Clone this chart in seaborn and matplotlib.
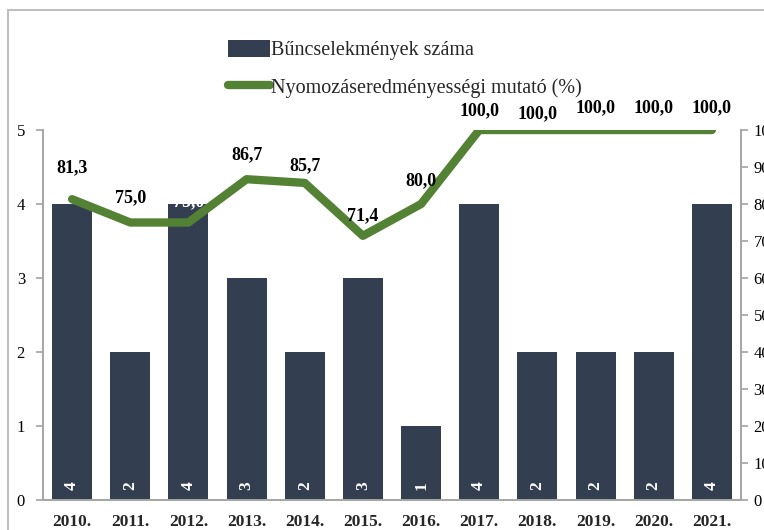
import numpy as np
import pandas as pd
import seaborn as sns
import matplotlib as mpl
import matplotlib.pyplot as plt
from matplotlib.patches import Rectangle
from matplotlib.lines import Line2D
from matplotlib.patches import Patch

years = ['2010.', '2011.', '2012.', '2013.', '2014.', '2015.',
         '2016.', '2017.', '2018.', '2019.', '2020.', '2021.']
crimes = [4, 2, 4, 3, 2, 3, 1, 4, 2, 2, 2, 4]
rate = [81.3, 75.0, 75.0, 86.7, 85.7, 71.4, 80.0, 100.0, 100.0, 100.0, 100.0, 100.0]

bar_label = 'Bűncselekmények száma'
line_label = 'Nyomozáseredményességi mutató (%)'

bar_color = '#333f50'
line_color = '#548235'
spine_color = '#a6a6a6'

sns.set_theme(style='white')
mpl.rc('font', family=['Liberation Serif', 'DejaVu Serif'])

df = pd.DataFrame({'year': years, 'crimes': crimes, 'rate': rate})

fig = plt.figure(figsize=(7.64, 5.30), dpi=100)
ax = fig.add_axes([43 / 764, 30 / 530, 698 / 764, 370 / 530])

sns.barplot(data=df, x='year', y='crimes', color=bar_color, saturation=1,
            width=0.69, ax=ax, zorder=2, linewidth=0)
ax.set_xlim(-0.5, 11.5)
ax.set_ylim(0, 5)
ax.set_yticks(range(6))
ax.set_xlabel('')
ax.set_ylabel('')

# value labels inside the bars
for i, v in enumerate(crimes):
    ax.text(i, 0.19, str(v), rotation=90, color='white', fontsize=12.5,
            fontweight='bold', ha='center', va='center', zorder=3)

ax2 = ax.twinx()
sns.lineplot(data=df, x='year', y='rate', color=line_color, linewidth=6,
             ax=ax2, solid_capstyle='round', sort=False)
ax2.set_ylim(0, 100)
ax2.set_yticks(range(0, 101, 10))
ax2.set_ylabel('')
ax2.set_xlabel('')

# offsets of the line labels (in right-axis units)
offsets = [8.6, 6.8, 5.5, 6.5, 4.6, 5.4, 6.2, 5.2, 4.3, 6.0, 6.0, 6.0]
for i, v in enumerate(rate):
    txt = f'{v:.1f}'.replace('.', ',')
    c = 'white' if i == 2 else 'black'
    ax2.text(i, v + offsets[i], txt, color=c, fontsize=13, fontweight='bold',
             ha='center', va='center')

for a in (ax, ax2):
    for s in a.spines.values():
        s.set_color(spine_color)
    a.spines['top'].set_visible(False)
    a.tick_params(axis='y', which='major', direction='out', length=5,
                  color=spine_color, labelsize=12, labelcolor='black', pad=8)
ax2.tick_params(axis='y', pad=4)
ax.tick_params(axis='x', length=0, labelsize=12.5, pad=10)
for lab in ax.get_xticklabels():
    lab.set_fontweight('bold')

handles = [Patch(facecolor=bar_color, edgecolor='none'),
           Line2D([0], [0], color=line_color, linewidth=6, solid_capstyle='round')]
fig.legend(handles, [bar_label, line_label], loc='upper left',
           bbox_to_anchor=(218 / 764, 1 - 30 / 530), frameon=False,
           fontsize=14.5, handlelength=2.1, handletextpad=0.05,
           labelspacing=0.85, borderpad=0, handleheight=0.9)

fig.add_artist(Rectangle((8 / 764, -0.1), 1.2, 1.1 - 10 / 530,
                         transform=fig.transFigure, fill=False,
                         edgecolor='#bfbfbf', linewidth=1.5))

fig.savefig('out.png', dpi=100)
